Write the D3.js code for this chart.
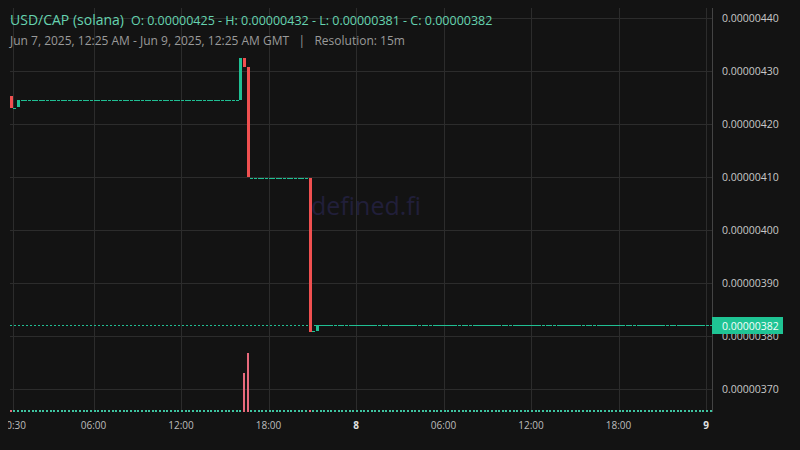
<!DOCTYPE html>
<html><head><meta charset="utf-8">
<script src="https://cdn.jsdelivr.net/npm/d3@7"></script>
<style>html,body{margin:0;background:#131313;} svg{display:block;font-family:"Open Sans",sans-serif;}</style>
</head><body><svg id="c" width="800" height="450"></svg>
<script>
// ---- data ----
const candleTimes = ["2025-06-07T00:15Z","2025-06-07T00:30Z","2025-06-07T00:45Z","2025-06-07T16:00Z","2025-06-07T16:15Z","2025-06-07T16:30Z","2025-06-07T20:45Z","2025-06-07T21:00Z","2025-06-07T21:15Z"];
const opens   = [0.000004253,0.000004231,0.000004231,0.000004245,0.000004324,0.000004307,0.000004099,0.000003809,0.000003809];
const highs   = [0.000004253,0.000004231,0.000004245,0.000004324,0.000004324,0.000004307,0.000004099,0.000003809,0.000003820];
const lows    = [0.000004231,0.000004231,0.000004231,0.000004245,0.000004307,0.000004099,0.000003809,0.000003809,0.000003809];
const closes  = [0.000004231,0.000004231,0.000004245,0.000004324,0.000004307,0.000004099,0.000003809,0.000003809,0.000003820];
const volumes = [0,0,20,20,395,590,0,0,0];
// runs of unchanged price (no-trade 15m candles)
const flatStarts = ["2025-06-07T01:00Z","2025-06-07T16:45Z","2025-06-07T21:30Z"];
const flatEnds   = ["2025-06-07T15:45Z","2025-06-07T20:30Z","2025-06-09T00:15Z"];
const flatPrices = [0.000004245,0.000004099,0.000003820];
const lastPrice = 0.000003820;
const priceTicks = [0.0000037,0.0000038,0.0000039,0.0000040,0.0000041,0.0000042,0.0000043,0.0000044];
const timeTicks = ["2025-06-07T00:30Z","2025-06-07T06:00Z","2025-06-07T12:00Z","2025-06-07T18:00Z","2025-06-08T00:00Z","2025-06-08T06:00Z","2025-06-08T12:00Z","2025-06-08T18:00Z","2025-06-09T00:00Z"];
const timeLabels = ["00:30","06:00","12:00","18:00","8","06:00","12:00","18:00","9"];
const dayLabels = ["8","9"];

// ---- build candles ----
const candles = candleTimes.map((t,i)=>({t:new Date(t),o:opens[i],h:highs[i],l:lows[i],c:closes[i],v:volumes[i]}));
flatStarts.forEach((s,i)=>{
  d3.utcMinute.every(15).range(new Date(s), d3.utcMinute.offset(new Date(flatEnds[i]),1)).forEach(t=>{
    candles.push({t,o:flatPrices[i],h:flatPrices[i],l:flatPrices[i],c:flatPrices[i],v:0});
  });
});

const W=800,H=450, L=10, R=712, T=8, B=412;
const svg=d3.select("#c");
svg.append("rect").attr("width",W).attr("height",H).attr("fill","#131313");

const x=d3.scaleUtc().domain([new Date("2025-06-07T00:00Z"),new Date("2025-06-09T00:00Z")]).range([6,706]);
const y=d3.scaleLinear().domain([0.0000037,0.0000044]).range([389,18]);
const vy=d3.scaleLinear().domain([0,600]).range([412,352]);
const green="#20bf93", red="#f05050";

svg.append("defs").append("clipPath").attr("id","pc").append("rect").attr("x",L).attr("y",T).attr("width",R-L).attr("height",B-T);
svg.select("defs").append("clipPath").attr("id","xc").append("rect").attr("x",8).attr("y",412).attr("width",720).attr("height",38);

// grid
const grid=svg.append("g").attr("shape-rendering","crispEdges");
grid.selectAll("line.h").data(priceTicks).join("line").attr("class","h")
  .attr("x1",L).attr("x2",R).attr("y1",d=>Math.round(y(d))+0.5).attr("y2",d=>Math.round(y(d))+0.5)
  .attr("stroke","#2c2c2c");
grid.selectAll("line.v").data(timeTicks).join("line").attr("class","v")
  .attr("x1",d=>Math.round(x(new Date(d)))+0.5).attr("x2",d=>Math.round(x(new Date(d)))+0.5)
  .attr("y1",T).attr("y2",B).attr("stroke","#2c2c2c");

// watermark
svg.append("text").attr("x",311).attr("y",215).attr("font-size",25).attr("fill","#211f3a").text("defined.fi");

const plot=svg.append("g").attr("clip-path","url(#pc)").attr("shape-rendering","crispEdges");
const step=x(new Date("2025-06-07T00:15Z"))-x(new Date("2025-06-07T00:00Z"));
const bw=Math.round(step*0.8);

// volume
plot.selectAll("rect.vol").data(candles).join("rect").attr("class","vol")
  .attr("x",d=>Math.round(x(d.t))).attr("width",bw-1)
  .attr("y",d=>Math.min(Math.round(vy(d.v)),410)).attr("height",d=>Math.max(2,412-Math.round(vy(d.v))))
  .attr("fill",d=>d.c<d.o?"#e86a7c":"#3fc4a0");

// price line
plot.append("line").attr("x1",L).attr("x2",R).attr("y1",Math.round(y(lastPrice))+0.5).attr("y2",Math.round(y(lastPrice))+0.5)
  .attr("stroke",green).attr("stroke-dasharray","2,2");

// candles
plot.selectAll("rect.body").data(candles).join("rect").attr("class","body")
  .attr("x",d=>Math.round(x(d.t))).attr("width",bw)
  .attr("y",d=>Math.round(y(Math.max(d.o,d.c)))).attr("height",d=>Math.max(1,Math.round(Math.abs(y(d.o)-y(d.c)))))
  .attr("fill",d=>d.c<d.o?red:green);

// right axis line
svg.append("line").attr("x1",R+0.5).attr("x2",R+0.5).attr("y1",T).attr("y2",B).attr("stroke","#444").attr("shape-rendering","crispEdges");

// right labels
svg.append("g").selectAll("text").data(priceTicks).join("text")
  .attr("x",722).attr("y",d=>y(d)+3.8).attr("font-size",10.5).attr("fill","#c8c8c8")
  .text(d=>d3.format(".8f")(d));

// last price label
svg.append("rect").attr("x",R).attr("y",Math.round(y(lastPrice))-8).attr("width",71).attr("height",17).attr("fill","#1fc494");
svg.append("text").attr("x",722).attr("y",y(lastPrice)+4.3).attr("font-size",10.5).attr("fill","#f4fffb").text(d3.format(".8f")(lastPrice));

// bottom labels
svg.append("g").attr("clip-path","url(#xc)").selectAll("text").data(timeTicks).join("text")
  .attr("x",d=>x(new Date(d))).attr("y",429).attr("text-anchor","middle").attr("font-size",10)
  .attr("font-weight",(d,i)=>dayLabels.includes(timeLabels[i])?"bold":"normal")
  .attr("fill",(d,i)=>dayLabels.includes(timeLabels[i])?"#e0e0e0":"#bdbdbd")
  .text((d,i)=>timeLabels[i]);

// header
const hd=svg.append("text").attr("x",10).attr("y",25).attr("fill","#66d3b0");
hd.append("tspan").attr("font-size",14).text("USD/CAP (solana)");
hd.append("tspan").attr("dx",7).attr("font-size",12.5).text("O: 0.00000425 - H: 0.00000432 - L: 0.00000381 - C: 0.00000382");
svg.append("text").attr("x",10).attr("y",45).attr("font-size",12).attr("fill","#9a9a9a").attr("xml:space","preserve")
  .text("Jun 7, 2025, 12:25 AM - Jun 9, 2025, 12:25 AM GMT   |   Resolution: 15m");
</script></body></html>
